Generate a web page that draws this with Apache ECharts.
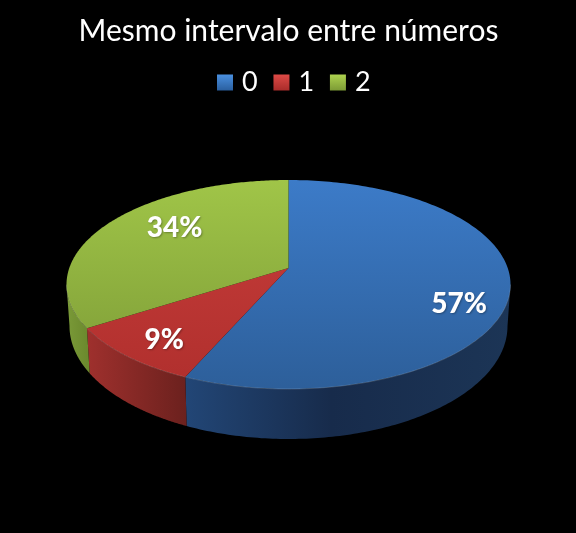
<!DOCTYPE html>
<html><head><meta charset="utf-8">
<style>html,body{margin:0;padding:0;background:#000}#c{width:576px;height:533px}</style>
<script src="https://cdn.jsdelivr.net/npm/echarts@6/dist/echarts.min.js"></script>
</head><body><div id="c"></div>
<script>
const titleText = 'Mesmo intervalo entre números';
const categories = ['0', '1', '2'];
const values = [56.6, 9.3, 34.1];

const topStops = [['#3c7bc8', '#2d5f9a'], ['#c83e3b', '#b02f2d'], ['#a0c548', '#7c9a36']];
const sideStops = [
  [[0, '#224676'], [0.45, '#172b4b'], [1, '#1c3556']],
  [[0, '#9f302d'], [1, '#6c211e']],
  [[0, '#7a9a38'], [1, '#6c8a2e']]
];
const legendStops = [['#4a90e0', '#2a5f9f'], ['#de4a46', '#a92c2a'], ['#aed24f', '#7c9b35']];
const labelRadius = [0.775, 0.79, 0.62];
const labelShift = [19, 4, -11];

// disc geometry, in pixels
const cx = 288.5, apexY = 268, cyTop = 284.5, Rx = 222, Ry = 104.5;
const cyLow = 326, RxLow = 219, RyLow = 113;
const k = -33 / 209, A = 121 * (1 + k), B = Rx * Math.sqrt(1 - k * k);
const rad = d => d * Math.PI / 180;
const total = values.reduce((a, b) => a + b, 0);

// disc angle (0 = up, clockwise) and radius -> screen
function project(deg, r) {
  const u = Math.sin(rad(deg)) * r, v = -Math.cos(rad(deg)) * r, d = 1 + k * v;
  return [cx + B * u / d, apexY + A * v / d];
}
function rimAngle(deg) {
  const p = project(deg, 1);
  let a = Math.atan2((p[0] - cx) / Rx, -(p[1] - cyTop) / Ry) * 180 / Math.PI;
  if (a < 0) a += 360;
  return (deg >= 359.99) ? 360 : a;
}
const rimTop = a => [cx + Rx * Math.sin(rad(a)), cyTop - Ry * Math.cos(rad(a))];
const rimLow = a => [cx + RxLow * Math.sin(rad(a)), cyLow - RyLow * Math.cos(rad(a))];
const grad = (x0, y0, x1, y1, stops) => new echarts.graphic.LinearGradient(
  x0, y0, x1, y1, stops.map(s => ({ offset: s[0], color: s[1] })), true);

function sliceRender(i) {
  return function (params, api) {
    const before = values.slice(0, i).reduce((a, b) => a + b, 0);
    const start = before / total * 360, end = (before + api.value(0)) / total * 360;
    const children = [];

    // side wall
    const a0 = Math.max(rimAngle(start), 90), a1 = Math.min(rimAngle(end), 270);
    if (a1 > a0) {
      const upper = [], lower = [];
      for (let s = 0; s <= 120; s++) {
        const a = a0 + (a1 - a0) * s / 120;
        upper.push(rimTop(a));
        lower.push(rimLow(a));
      }
      children.push({
        type: 'polygon', z2: 1,
        shape: { points: upper.concat(lower.slice().reverse()) },
        style: { fill: grad(Math.min(upper[0][0], upper[120][0]), 0, Math.max(upper[0][0], upper[120][0]), 0, sideStops[i]) }
      });
      children.push({
        type: 'polyline', z2: 3,
        shape: { points: upper },
        style: { fill: null, stroke: 'rgba(255,255,255,0.16)', lineWidth: 1 }
      });
    }

    // top face
    const pts = [project(0, 0)];
    for (let s = 0; s <= 180; s++) pts.push(project(start + (end - start) * s / 180, 1));
    children.push({
      type: 'polygon', z2: 2,
      shape: { points: pts },
      style: { fill: grad(0, 180, 0, 389, [[0, topStops[i][0]], [1, topStops[i][1]]]) }
    });

    // percentage label
    const lp = project((start + end) / 2, labelRadius[i]);
    children.push({
      type: 'text', z2: 5,
      style: {
        x: lp[0], y: lp[1] + labelShift[i],
        text: Math.round(api.value(0) / total * 100) + '%',
        fill: '#fff', font: '900 28px Lato', align: 'center', verticalAlign: 'middle',
        textShadowColor: 'rgba(0,0,0,0.3)', textShadowBlur: 2, textShadowOffsetX: 1, textShadowOffsetY: 1
      }
    });
    return { type: 'group', children };
  };
}

const chart = echarts.init(document.getElementById('c'), null, { renderer: 'canvas' });
chart.setOption({
  animation: false,
  backgroundColor: '#000',
  title: {
    text: titleText, left: 283.5, top: 11, textAlign: 'center',
    textStyle: { color: '#fff', fontFamily: 'Lato', fontWeight: 'normal', fontSize: 30 }
  },
  legend: {
    top: 64, left: 212, itemWidth: 16, itemHeight: 16, itemGap: 15.8,
    textStyle: { color: '#fff', fontFamily: 'Lato', fontSize: 27, padding: [0, 0, 0, 4] },
    data: categories.map((name, i) => ({
      name, icon: 'rect',
      itemStyle: { color: new echarts.graphic.LinearGradient(0, 0, 0, 1, [{ offset: 0, color: legendStops[i][0] }, { offset: 1, color: legendStops[i][1] }]) }
    }))
  },
  series: categories.map((name, i) => ({
    type: 'custom', name, coordinateSystem: 'none', silent: true,
    itemStyle: { color: legendStops[i][0] },
    data: [values[i]],
    renderItem: sliceRender(i)
  }))
});
</script></body></html>
